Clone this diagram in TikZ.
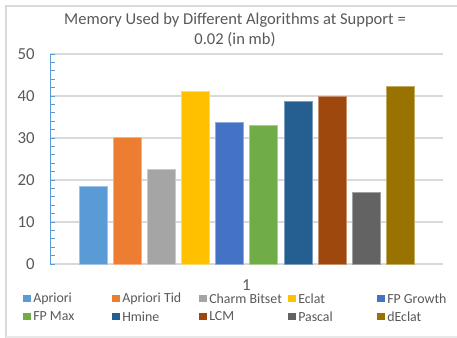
\documentclass[tikz,border=0pt]{standalone}
\usepackage{fontspec}
\setmainfont{Carlito}
\definecolor{txt}{HTML}{595959}
\definecolor{grid}{HTML}{D9D9D9}
\definecolor{axblue}{HTML}{5B9BD5}
\definecolor{cA}{HTML}{5B9BD5}
\definecolor{cB}{HTML}{ED7D31}
\definecolor{cC}{HTML}{A5A5A5}
\definecolor{cD}{HTML}{FFC000}
\definecolor{cE}{HTML}{4472C4}
\definecolor{cF}{HTML}{70AD47}
\definecolor{cG}{HTML}{255E91}
\definecolor{cH}{HTML}{9E480E}
\definecolor{cI}{HTML}{636363}
\definecolor{cJ}{HTML}{997300}
\begin{document}
\begin{tikzpicture}[x=0.75pt,y=-0.75pt,
  ylab/.style={anchor=east,text=txt,font=\fontsize{12.6}{14}\selectfont,inner sep=0pt},
  legtxt/.style={anchor=west,text=txt,font=\fontsize{10.4}{12}\selectfont,inner sep=0pt},
  ttl/.style={text=txt,font=\fontsize{12.4}{14}\selectfont,inner sep=0pt},
  gridline/.style={draw=grid,line width=0.9pt}]
\useasboundingbox (0,0) rectangle (457,338);
\fill[white] (0,0) rectangle (457,338);
% chart frame
\draw[grid,line width=0.8pt] (6,338) -- (6,6) -- (457,6);
\draw[grid!60,line width=0.8pt] (6,337) -- (457,337);
% title
\node[ttl] (title) at (235,20) {Memory Used by Different Algorithms at Support =};
\node[ttl] (title2) at (235,40) {0.02 (in mb)};
% gridlines
\foreach \v in {10,20,30,40,50} {
  \draw[gridline] (50,{264-4.2*\v}) -- (443,{264-4.2*\v});
}
\draw[grid,line width=1pt] (50,264) -- (443,264);
% bars
\foreach \i/\v/\c in {0/18.4/cA,1/30.2/cB,2/22.5/cC,3/41.2/cD,4/33.8/cE,5/33.0/cF,6/38.7/cG,7/40.0/cH,8/17.1/cI,9/42.3/cJ} {
  \filldraw[fill=\c,draw=\c!60!white,line width=0.6pt] ({79+34.15*\i},264) rectangle ({79+34.15*\i+28},{264-4.2*\v});
}
% y axis
\draw[axblue,line width=0.7pt] (50,54) -- (50,264);
\foreach \k in {0,...,25} {
  \draw[axblue,line width=0.6pt] (50,{264-8.4*\k}) -- (55,{264-8.4*\k});
}
% y labels
\foreach \v in {0,10,20,30,40,50} {
  \node[ylab] (y\v) at (35,{264-4.2*\v}) {\v};
}
% category label
\node[text=txt,font=\fontsize{12.6}{14}\selectfont,inner sep=0pt] (cat) at (246.5,285) {1};
% legend
\foreach \x/\y/\c/\t/\n in {23/298.5/cA/Apriori/la,112/298.5/cB/Apriori Tid/lb,199/298.5/cC/Charm Bitset/lc,288/298.5/cD/Eclat/ld,377/298.5/cE/FP Growth/le,
  23/316.5/cF/FP Max/lf,112/316.5/cG/Hmine/lg,199/316.5/cH/LCM/lh,288/316.5/cI/Pascal/li,377/316.5/cJ/dEclat/lj} {
  \fill[\c] (\x,{\y-3.7}) rectangle ({\x+7.5},{\y+3.7});
  \node[legtxt] (\n) at ({\x+10},\y) {\t};
}
\end{tikzpicture}
\end{document}
